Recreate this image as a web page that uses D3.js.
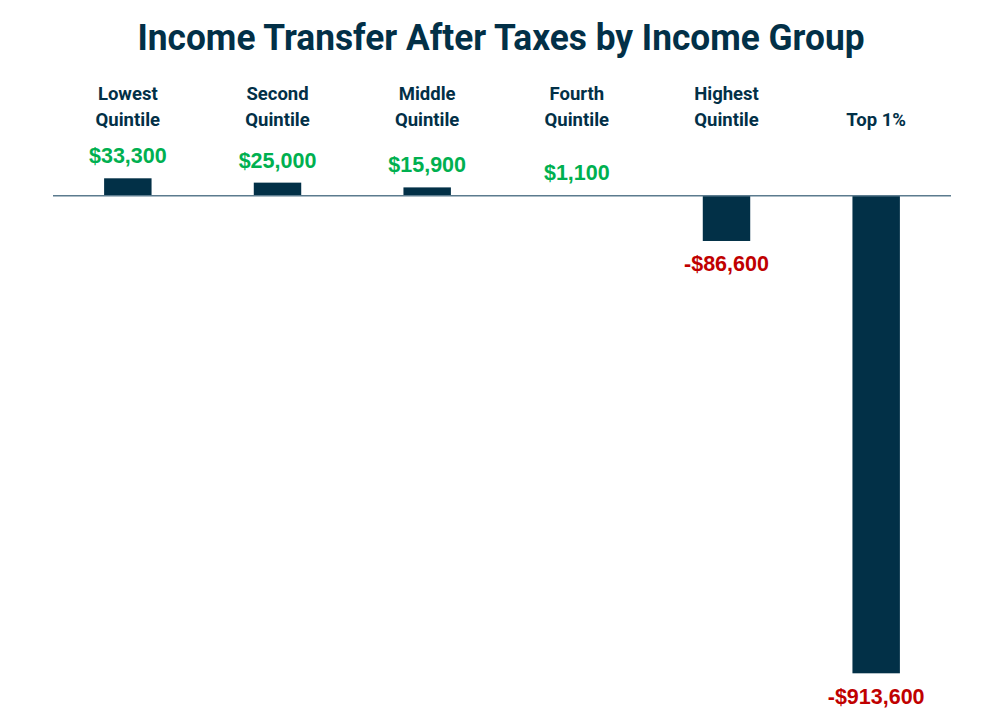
<!DOCTYPE html>
<html>
<head>
<meta charset="utf-8">
<script src="https://cdn.jsdelivr.net/npm/d3@7"></script>
<style>
  body { margin: 0; background: #fff; }
</style>
</head>
<body>
<div id="chart"></div>
<script>
// 数据
const groups = ["Lowest Quintile", "Second Quintile", "Middle Quintile", "Fourth Quintile", "Highest Quintile", "Top 1%"];
const labelLines = [["Lowest", "Quintile"], ["Second", "Quintile"], ["Middle", "Quintile"], ["Fourth", "Quintile"], ["Highest", "Quintile"], ["Top 1%"]];
const transfers = [33300, 25000, 15900, 1100, -86600, -913600];

const width = 1000, height = 725;
const navy = "#023047";

const svg = d3.select("#chart")
  .append("svg")
  .attr("width", width)
  .attr("height", height);

// 标题
svg.append("text")
  .attr("x", 501)
  .attr("y", 50)
  .attr("text-anchor", "middle")
  .attr("font-family", "Roboto, sans-serif")
  .attr("font-weight", 700)
  .attr("font-size", "37px")
  .attr("fill", navy)
  .attr("textLength", 727)
  .attr("lengthAdjust", "spacingAndGlyphs")
  .text("Income Transfer After Taxes by Income Group");

const x = d3.scaleBand()
  .domain(groups)
  .range([53, 951])
  .paddingInner(0.683)
  .paddingOuter(0.3415);

const y = d3.scaleLinear()
  .domain([-913600, 33300])
  .range([673.3, 178.3]);

// 柱子
svg.selectAll(".bar")
  .data(transfers)
  .join("rect")
  .attr("class", "bar")
  .attr("x", (d, i) => x(groups[i]))
  .attr("width", x.bandwidth())
  .attr("y", d => y(Math.max(0, d)))
  .attr("height", d => Math.abs(y(d) - y(0)))
  .attr("fill", navy);

// 零线
svg.append("line")
  .attr("x1", 53)
  .attr("x2", 951)
  .attr("y1", y(0))
  .attr("y2", y(0))
  .attr("stroke", "#5b7b8e")
  .attr("stroke-width", 1.5);

// 分类标签（底部对齐）
const cats = svg.selectAll(".cat")
  .data(labelLines)
  .join("text")
  .attr("class", "cat")
  .attr("text-anchor", "middle")
  .attr("font-family", "Roboto, sans-serif")
  .attr("font-weight", 700)
  .attr("font-size", "18.5px")
  .attr("fill", navy);

cats.each(function (lines, i) {
  const cx = x(groups[i]) + x.bandwidth() / 2;
  d3.select(this).selectAll("tspan")
    .data(lines)
    .join("tspan")
    .attr("x", cx)
    .attr("y", (l, j) => 126 - (lines.length - 1 - j) * 26)
    .text(l => l);
});

// 数值标签
const fmt = d => (d < 0 ? "-$" : "$") + d3.format(",")(Math.abs(d));

svg.selectAll(".val")
  .data(transfers)
  .join("text")
  .attr("class", "val")
  .attr("x", (d, i) => x(groups[i]) + x.bandwidth() / 2)
  .attr("y", d => d >= 0 ? y(d) - 15 : y(d) + 30.5)
  .attr("text-anchor", "middle")
  .attr("font-family", "'Liberation Sans', Arial, sans-serif")
  .attr("font-weight", 700)
  .attr("font-size", "21.5px")
  .attr("fill", d => d >= 0 ? "#00b050" : "#c00000")
  .text(fmt);
</script>
</body>
</html>
